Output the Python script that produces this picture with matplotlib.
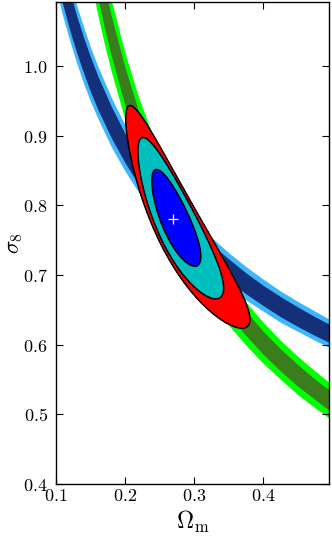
import numpy as np
import matplotlib
matplotlib.use('Agg')
import matplotlib.pyplot as plt
from matplotlib.ticker import FormatStrFormatter, MultipleLocator

plt.rcParams['mathtext.fontset'] = 'cm'
plt.rcParams['font.family'] = 'serif'

# band 1 (blue): sigma8 edges read at these Omega_m values
om_blue = [0.10, 0.11, 0.12, 0.13, 0.14, 0.15, 0.16, 0.18, 0.20, 0.22, 0.25, 0.275, 0.30,
           0.325, 0.35, 0.375, 0.40, 0.425, 0.45, 0.475, 0.50]
blue_lo2 = [1.112, 1.071, 1.036, 1.004, 0.975, 0.949, 0.926, 0.884, 0.849, 0.818, 0.778, 0.750, 0.725,
            0.702, 0.682, 0.664, 0.648, 0.632, 0.619, 0.606, 0.594]
blue_hi2 = [1.208, 1.163, 1.123, 1.087, 1.056, 1.027, 1.001, 0.955, 0.915, 0.881, 0.837, 0.806, 0.778,
            0.754, 0.732, 0.712, 0.694, 0.677, 0.662, 0.648, 0.634]
blue_lo1 = [1.129, 1.088, 1.051, 1.019, 0.990, 0.963, 0.939, 0.897, 0.861, 0.829, 0.789, 0.760, 0.734,
            0.712, 0.691, 0.673, 0.656, 0.640, 0.626, 0.613, 0.601]
blue_hi1 = [1.191, 1.146, 1.107, 1.072, 1.041, 1.013, 0.987, 0.942, 0.903, 0.870, 0.826, 0.796, 0.769,
            0.744, 0.723, 0.703, 0.685, 0.669, 0.654, 0.640, 0.627]

# band 2 (green)
om_green = [0.14, 0.15, 0.16, 0.17, 0.18, 0.20, 0.22, 0.25, 0.275, 0.30, 0.325, 0.35, 0.375,
            0.40, 0.425, 0.45, 0.475, 0.50]
green_lo2 = [1.182, 1.127, 1.078, 1.034, 0.994, 0.924, 0.866, 0.793, 0.742, 0.699, 0.661, 0.628, 0.599,
             0.573, 0.550, 0.528, 0.509, 0.491]
green_hi2 = [1.305, 1.244, 1.190, 1.141, 1.097, 1.020, 0.955, 0.875, 0.819, 0.771, 0.730, 0.693, 0.661,
             0.632, 0.606, 0.583, 0.562, 0.542]
green_lo1 = [1.209, 1.153, 1.103, 1.058, 1.017, 0.945, 0.885, 0.811, 0.759, 0.715, 0.676, 0.643, 0.613,
             0.586, 0.562, 0.540, 0.521, 0.502]
green_hi1 = [1.278, 1.218, 1.165, 1.118, 1.074, 0.999, 0.935, 0.857, 0.802, 0.755, 0.715, 0.679, 0.648,
             0.619, 0.594, 0.571, 0.550, 0.531]

# joint contours: ellipses in (ln Om, ln s8), outer to inner
ell_om0 = [0.2765, 0.2736, 0.2718]
ell_s80 = [0.767, 0.773, 0.779]
ell_slope = -0.62
ell_half_len = [0.373, 0.261, 0.150]
ell_half_wid = [0.076, 0.068, 0.048]
ell_colors = ['#ff0000', '#00bfbf', '#0000ff']

best_om, best_s8 = 0.27, 0.78

fig = plt.figure(figsize=(3.32, 5.36), dpi=100)
ax = fig.add_axes([56/332, 52/536, 273/332, 482/536])

ax.fill_between(om_blue, blue_lo2, blue_hi2, color='#3db6fb', lw=0)
ax.fill_between(om_green, green_lo2, green_hi2, color='#00ff00', lw=0)
ax.fill_between(om_blue, blue_lo1, blue_hi1, color='#14307a', lw=0)
ax.fill_between(om_green, green_lo1, green_hi1, color='#3a7d1c', lw=0)

om_grid, s8_grid = np.meshgrid(np.linspace(0.1, 0.5, 800), np.linspace(0.4, 1.1, 800))
th = np.arctan(ell_slope)
for om0, s0, a, b, c in zip(ell_om0, ell_s80, ell_half_len, ell_half_wid, ell_colors):
    u = np.log(om_grid / om0)
    v = np.log(s8_grid / s0)
    x1 = u*np.cos(th) + v*np.sin(th)
    x2 = -u*np.sin(th) + v*np.cos(th)
    r = (x1/a)**2 + (x2/b)**2
    ax.contourf(om_grid, s8_grid, r, levels=[0, 1], colors=[c])
    ax.contour(om_grid, s8_grid, r, levels=[1], colors='k', linewidths=1.1)

ax.plot(best_om, best_s8, '+', color='white', ms=7, mew=0.9)

ax.set_xlim(0.1, 0.495)
ax.set_ylim(0.4, 1.092)
ax.xaxis.set_major_locator(MultipleLocator(0.1))
ax.yaxis.set_major_locator(MultipleLocator(0.1))
ax.xaxis.set_major_formatter(FormatStrFormatter(r'$%.1f$'))
ax.yaxis.set_major_formatter(FormatStrFormatter(r'$%.1f$'))
ax.tick_params(direction='in', top=True, right=True, length=5, width=0.8, labelsize=13)
ax.tick_params(axis='x', pad=2)
ax.tick_params(axis='y', pad=6)
for s in ax.spines.values():
    s.set_linewidth(1.0)

ax.set_xlabel(r'$\Omega_{\rm m}$', fontsize=17, labelpad=3)
ax.set_ylabel(r'$\sigma_8$', fontsize=16)
ax.yaxis.set_label_coords(-0.115, 0.5)

fig.savefig('out.png', dpi=100)
